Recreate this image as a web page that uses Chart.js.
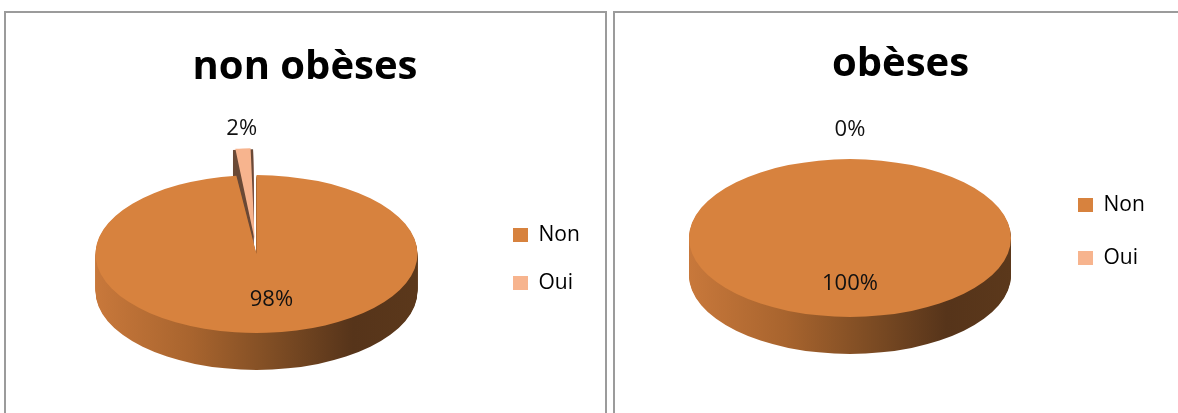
<!DOCTYPE html>
<html>
<head>
<meta charset="utf-8">
<script src="https://cdn.jsdelivr.net/npm/chart.js@4.4.1/dist/chart.umd.min.js"></script>
<style>
html, body { margin: 0; padding: 0; background: #fff; overflow: hidden; width: 1178px; height: 413px; }
.box { position: absolute; top: 11px; height: 420px; border: 2px solid #9b9b9b; background: #fff; }
#boxA { left: 4px; width: 599px; }
#boxB { left: 613px; width: 600px; }
canvas { display: block; }
</style>
</head>
<body>
<div class="box" id="boxA"><canvas id="pieA" width="599" height="400"></canvas></div>
<div class="box" id="boxB"><canvas id="pieB" width="560" height="400"></canvas></div>
<script>
const categories = ["Non", "Oui"];
const nonObesesValues = [98, 2];
const obesesValues = [100, 0];
const titles = ["non obèses", "obèses"];

const sliceColors = ["#D7823E", "#F7B48E"];

Chart.defaults.font.family = "'Open Sans', sans-serif";

function squash(ctx, cx, cy, k) {
  ctx.translate(cx, cy);
  ctx.scale(1, k);
  ctx.translate(-cx, -cy);
}

// same shift as ArcElement.draw uses for an exploded slice
function explodeShift(arc) {
  const off = (arc.options.offset || 0) / 4;
  const fix = 1 - Math.sin(Math.min(Math.PI, arc.circumference || 0));
  return off + off * fix;
}

function arcPath(ctx, arc) {
  const mid = (arc.startAngle + arc.endAngle) / 2;
  const d = explodeShift(arc);
  const x = arc.x + Math.cos(mid) * d;
  const y = arc.y + Math.sin(mid) * d;
  ctx.beginPath();
  ctx.moveTo(x, y);
  ctx.arc(x, y, arc.outerRadius, arc.startAngle, arc.endAngle);
  ctx.closePath();
}

// fake 3d: squash the pie and stack its side wall under it
const pie3d = {
  id: "pie3d",
  beforeDatasetsDraw(chart, args, opts) {
    const ctx = chart.ctx;
    const meta = chart.getDatasetMeta(0);
    const a = meta.data[0];
    const cx = a.x, cy = a.y, r = a.outerRadius;
    const grad = ctx.createLinearGradient(cx - r, 0, cx + r, 0);
    grad.addColorStop(0, "#c8783b");
    grad.addColorStop(0.3, "#a8642e");
    grad.addColorStop(0.55, "#7f4d24");
    grad.addColorStop(0.8, "#56341a");
    grad.addColorStop(1, "#5b381b");

    for (let d = opts.depth; d > 0; d--) {
      ctx.save();
      ctx.translate(0, d);
      squash(ctx, cx, cy, opts.tilt);
      meta.data.forEach((arc, i) => {
        if (!arc.circumference) return;
        arcPath(ctx, arc);
        ctx.fillStyle = i === 0 ? grad : "#6b4a37";
        ctx.fill();
      });
      ctx.restore();
    }
    ctx.save();
    squash(ctx, cx, cy, opts.tilt);
  },
  afterDatasetsDraw(chart, args, opts) {
    const ctx = chart.ctx;
    ctx.restore();

    const meta = chart.getDatasetMeta(0);
    const data = chart.data.datasets[0].data;
    const total = data.reduce((s, v) => s + v, 0);
    ctx.save();
    ctx.font = "22px 'Open Sans'";
    ctx.fillStyle = "#111";
    ctx.textAlign = "center";
    ctx.textBaseline = "middle";
    meta.data.forEach((arc, i) => {
      const share = data[i] / total;
      const mid = (arc.startAngle + arc.endAngle) / 2;
      const shift = explodeShift(arc);
      let x, y;
      if (share < 0.05) {
        const rr = arc.outerRadius + shift;
        x = arc.x + Math.cos(mid) * (rr) + Math.cos(mid) * opts.labelGap;
        y = arc.y + Math.sin(mid) * rr * opts.tilt + Math.sin(mid) * opts.labelGap;
      } else {
        const rr = arc.outerRadius * opts.labelRadius + shift;
        x = arc.x + Math.cos(mid) * rr + opts.labelNudge;
        y = arc.y + Math.sin(mid) * rr * opts.tilt;
      }
      ctx.fillText(Math.round(share * 100) + "%", x, y);
    });
    ctx.restore();
  }
};

function makeChart(id, title, values, o) {
  return new Chart(document.getElementById(id), {
    type: "pie",
    data: {
      labels: categories,
      datasets: [{
        data: values,
        backgroundColor: sliceColors,
        borderWidth: 0,
        offset: o.offsets,
        radius: 161,
        clip: false
      }]
    },
    options: {
      responsive: false,
      animation: false,
      devicePixelRatio: 1,
      events: [],
      layout: { padding: o.padding },
      plugins: {
        title: {
          display: true,
          text: title,
          color: "#000",
          font: { size: 40, weight: "bold" },
          padding: o.titlePad
        },
        legend: {
          position: "right",
          align: "start",
          fullSize: false,
          maxWidth: o.legendWidth,
          title: { display: true, text: "", font: { size: 10 }, padding: { top: o.legendTop, bottom: 0 } },
          labels: {
            boxWidth: 15,
            boxHeight: 14,
            padding: o.legendGap,
            color: "#000",
            font: { size: 21 }
          }
        },
        tooltip: { enabled: false },
        pie3d: { tilt: 0.49, depth: 37, labelRadius: 0.585, labelGap: o.labelGap, labelNudge: o.labelNudge }
      }
    },
    plugins: [pie3d]
  });
}

makeChart("pieA", titles[0], nonObesesValues, {
  offsets: [0, 117],
  padding: { left: 21, right: 22, top: 0, bottom: 0 },
  titlePad: { top: 31, bottom: 3 },
  legendWidth: 97,
  legendTop: 90.5,
  legendGap: 27,
  labelGap: 20,
  labelNudge: 9
});

makeChart("pieB", titles[1], obesesValues, {
  offsets: [0, 0],
  padding: { left: 39, right: 28, top: 0, bottom: 23 },
  titlePad: { top: 28, bottom: -3 },
  legendWidth: 101,
  legendTop: 64.5,
  legendGap: 32,
  labelGap: 29,
  labelNudge: 0
});
</script>
</body>
</html>
